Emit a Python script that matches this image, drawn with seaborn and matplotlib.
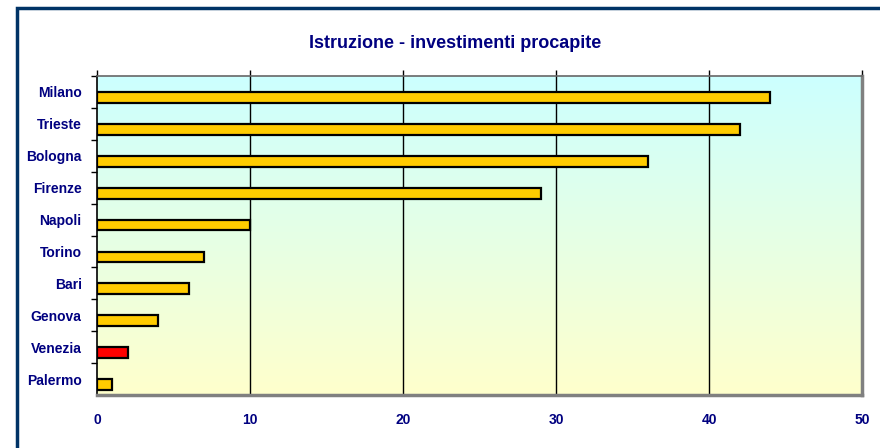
import numpy as np
import pandas as pd
import matplotlib
matplotlib.use("Agg")
import matplotlib.pyplot as plt
import matplotlib.patches as mpatches
import matplotlib.transforms as mtransforms
from matplotlib.colors import LinearSegmentedColormap
import seaborn as sns

cities = ["Milano", "Trieste", "Bologna", "Firenze", "Napoli",
          "Torino", "Bari", "Genova", "Venezia", "Palermo"]
values = [44, 42, 36, 29, 10, 7, 6, 4, 2, 1]
highlight = "Venezia"
x_ticks = [0, 10, 20, 30, 40, 50]

df = pd.DataFrame({"citta": cities, "valore": values})

sns.set_theme(style="white")
plt.rcParams["font.family"] = ["Liberation Sans", "DejaVu Sans"]

navy = "#000080"
fig = plt.figure(figsize=(8.8, 4.48), dpi=100)
ax = fig.add_axes([97 / 880, 53 / 448, 765 / 880, 319 / 448])

# background gradient: cyan on top, pale yellow at the bottom
cmap = LinearSegmentedColormap.from_list("bg", ["#FFFFCC", "#CCFFFF"])
grad = np.linspace(0, 1, 256).reshape(-1, 1)
ax.imshow(grad, cmap=cmap, aspect="auto", origin="lower",
          extent=[0, 1, 0, 1], transform=ax.transAxes, zorder=0)

palette = ["#FF0000" if c == highlight else "#FFCC00" for c in cities]
sns.barplot(data=df, x="valore", y="citta", hue="citta", palette=palette,
            legend=False, width=0.34, edgecolor="black", linewidth=1.6,
            saturation=1, ax=ax, zorder=3)

# bars sit in the lower part of each category (excel style)
shift = mtransforms.ScaledTranslation(0, -5.5 / 100, fig.dpi_scale_trans)
for p in ax.patches:
    p.set_transform(ax.transData + shift)

ax.set_xlim(0, 50)
ax.set_ylim(len(cities) - 0.5, -0.5)
ax.set_xticks(x_ticks)
ax.set_xticklabels([str(t) for t in x_ticks])
ax.grid(False)
for t in x_ticks[1:-1]:
    ax.axvline(t, color="black", linewidth=1, zorder=2)

ax.set_yticks(np.arange(len(cities)) - 0.5, minor=True)
ax.tick_params(axis="y", which="major", length=0, pad=11)
ax.tick_params(axis="y", which="minor", length=4, width=1,
               direction="out", color="black", left=True)
ax.tick_params(axis="x", top=True, bottom=False, labelbottom=True,
               length=4, width=1, direction="out", color="black", pad=9)
for lab in ax.get_yticklabels() + ax.get_xticklabels():
    lab.set_fontweight("bold")
    lab.set_color(navy)
    lab.set_fontsize(10)
ax.set_xlabel("")
ax.set_ylabel("")

ax.spines["left"].set_color("black")
ax.spines["left"].set_linewidth(1.2)
ax.spines["top"].set_color("#666666")
ax.spines["top"].set_linewidth(1.2)
ax.spines["right"].set_color("#808080")
ax.spines["right"].set_linewidth(2.5)
ax.spines["bottom"].set_color("#808080")
ax.spines["bottom"].set_linewidth(2.5)
for s in ax.spines.values():
    s.set_visible(True)

fig.text(455 / 880, 1 - 43 / 448, "Istruzione - investimenti procapite",
         ha="center", va="center", fontsize=13, fontweight="bold", color=navy)

# outer frame, right and bottom edges fall outside the picture
frame = mpatches.Rectangle((16.5 / 880, -0.1), 1.2, 1 - 8.5 / 448 + 0.1,
                           transform=fig.transFigure, fill=False,
                           edgecolor="#003366", linewidth=2.5)
fig.patches.append(frame)

fig.savefig("out.png", dpi=100, facecolor="white")
